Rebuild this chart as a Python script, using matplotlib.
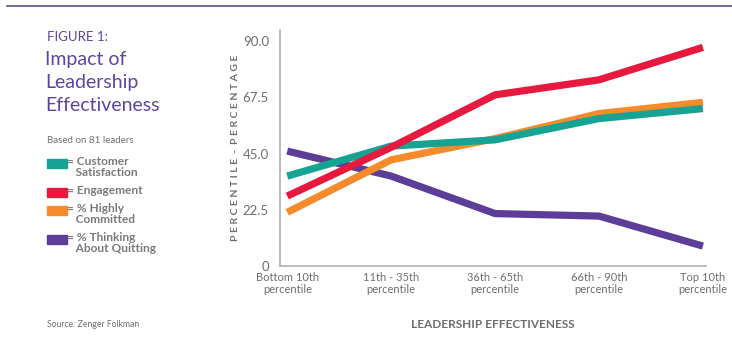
import matplotlib
matplotlib.use("Agg")
import matplotlib.pyplot as plt
from matplotlib.patches import Rectangle
from matplotlib.lines import Line2D

plt.rcParams["font.family"] = ["Lato", "DejaVu Sans"]

categories = ["Bottom 10th\npercentile", "11th - 35th\npercentile", "36th - 65th\npercentile",
              "66th - 90th\npercentile", "Top 10th\npercentile"]
customer_satisfaction = [36.0, 48.0, 50.5, 59.0, 63.0]
engagement = [28.0, 47.5, 68.5, 74.5, 87.5]
highly_committed = [21.5, 42.5, 51.0, 61.0, 65.5]
thinking_quitting = [46.0, 36.0, 21.0, 20.0, 8.0]
y_ticks = [0, 22.5, 45.0, 67.5, 90.0]
y_tick_labels = ["0", "22.5", "45.0", "67.5", "90.0"]

series = [
    ("% Thinking\nAbout Quitting", thinking_quitting, "#5c3d97"),
    ("% Highly\nCommitted", highly_committed, "#f68b2c"),
    ("Customer\nSatisfaction", customer_satisfaction, "#17a394"),
    ("Engagement", engagement, "#e8193e"),
]

fig = plt.figure(figsize=(7.32, 3.42), dpi=100)
ax = fig.add_axes([0.3825, 0.222, 0.582, 0.69])

x = list(range(len(categories)))
for name, vals, col in series:
    ax.plot(x, vals, color=col, lw=5.2, solid_capstyle="butt", solid_joinstyle="round")

ax.set_xlim(-0.07, 4.03)
ax.set_ylim(0, 94.4)
ax.set_yticks(y_ticks)
ax.set_yticklabels(y_tick_labels)
ax.set_xticks(x)
ax.set_xticklabels(categories, multialignment="center")
ax.tick_params(length=0, colors="#6e6e6e", labelsize=9.5)
ax.tick_params(axis="x", labelsize=8, pad=4)
ax.tick_params(axis="y", pad=8)
for s in ["top", "right"]:
    ax.spines[s].set_visible(False)
for s in ["left", "bottom"]:
    ax.spines[s].set_color("#b0b0b0")
    ax.spines[s].set_linewidth(1.2)

ax.set_ylabel("P E R C E N T I L E  -  P E R C E N T A G E",
              fontsize=7.5, fontweight="bold", color="#6e6e6e", labelpad=2)
fig.text(0.673, 0.05, "LEADERSHIP EFFECTIVENESS", fontsize=8.5, fontweight="bold",
         color="#6e6e6e", ha="center", va="center")

# top rule
fig.add_artist(Line2D([0.01, 1.0], [0.982, 0.982], color="#5a4f86", lw=1.2))

# left panel text
purple = "#5e45a3"
fig.text(0.064, 0.892, "FIGURE 1:", fontsize=9.5, color=purple, va="center")
fig.text(0.062, 0.85, "Impact of\nLeadership\nEffectiveness", fontsize=14, color=purple,
         va="top", linespacing=1.42)
fig.text(0.064, 0.59, "Based on 81 leaders", fontsize=7, color="#707070", va="center")

legend_items = [
    ("= Customer\n   Satisfaction", "#17a394", 0.522),
    ("= Engagement", "#e8193e", 0.438),
    ("= % Highly\n   Committed", "#f68b2c", 0.385),
    ("= % Thinking\n   About Quitting", "#5c3d97", 0.300),
]
for label, col, yy in legend_items:
    fig.add_artist(Rectangle((0.064, yy - 0.013), 0.027, 0.026, color=col,
                             transform=fig.transFigure))
    fig.text(0.092, yy + 0.022, label, fontsize=8.6, fontweight="bold", color="#7a7a7a",
             va="top", linespacing=1.0)

fig.text(0.064, 0.05, "Source: Zenger Folkman", fontsize=6.2, color="#707070", va="center")

fig.savefig("out.png", dpi=100, facecolor="white")
